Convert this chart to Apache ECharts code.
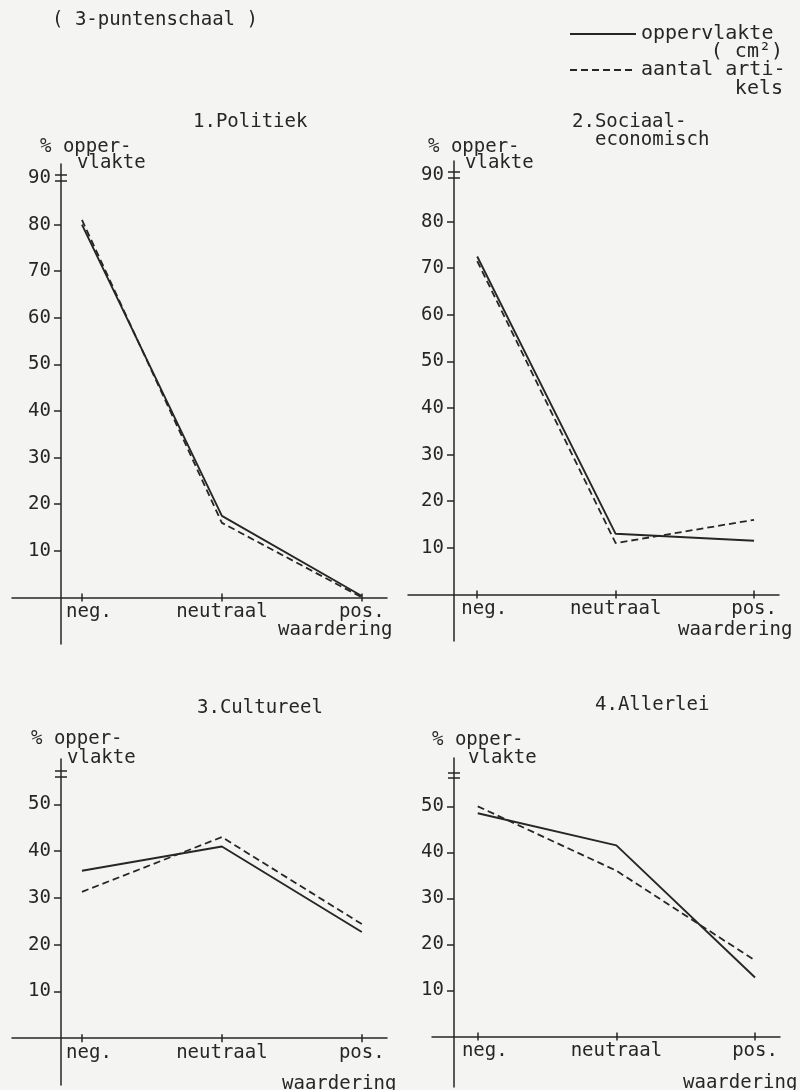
<!DOCTYPE html>
<html>
<head>
<meta charset="utf-8">
<script src="https://cdn.jsdelivr.net/npm/echarts@6/dist/echarts.min.js"></script>
<style>
html,body{margin:0;padding:0;background:#f4f4f2;}
#chart{width:800px;height:1090px;}
</style>
</head>
<body>
<div id="chart"></div>
<script>
// ---- data ----
const categories = ['neg.', 'neutraal', 'pos.'];
const seriesNames = ['oppervlakte ( cm²)', 'aantal artikels'];
const politiekOpp = [80, 17.5, 0.3];
const politiekArt = [81, 16, 0];
const sociaalOpp = [72.5, 13, 11.5];
const sociaalArt = [71.5, 11, 16];
const cultureelOpp = [35.8, 41, 22.7];
const cultureelArt = [31.3, 43, 24.4];
const allerleiOpp = [48.5, 41.5, 12.8];
const allerleiArt = [50, 36, 16.5];
const yTicksTop = [10, 20, 30, 40, 50, 60, 70, 80, 90];
const yTicksBottom = [10, 20, 30, 40, 50];

// ---- layout ----
const FONT = 'DejaVu Sans Mono';
const INK = '#262626';
const FS = 19;
const panels = [
  {left: 12, top: 164, width: 375, height: 480, xMin: -0.5, xMax: 2.18, yMin: -10, yMax: 93, yOffset: -49,
   labels: yTicksTop, breaks: [89.5, 90.6], opp: politiekOpp, art: politiekArt},
  {left: 408, top: 161, width: 371, height: 480, xMin: -0.5, xMax: 2.18, yMin: -10, yMax: 93, yOffset: -46,
   labels: yTicksTop, breaks: [89.5, 90.6], opp: sociaalOpp, art: sociaalArt},
  {left: 12, top: 759, width: 375, height: 326, xMin: -0.5, xMax: 2.18, yMin: -10, yMax: 59.7, yOffset: -49,
   labels: yTicksBottom, breaks: [55.8, 57.1], opp: cultureelOpp, art: cultureelArt},
  {left: 432, top: 758, width: 348, height: 329, xMin: -0.33, xMax: 2.18, yMin: -11, yMax: 60.5, yOffset: -22,
   labels: yTicksBottom, breaks: [56.1, 57.4], opp: allerleiOpp, art: allerleiArt}
];

const axisLineStyle = {color: INK, width: 1.5};
const textBase = {fontFamily: FONT, fontSize: FS, color: INK, lineHeight: 19};

const grid = [], xAxis = [], yAxis = [], series = [];
const catIdx = categories.map((c, k) => k);

panels.forEach((p, i) => {
  grid.push({left: p.left, top: p.top, width: p.width, height: p.height});
  // x axis sits at value 0 of the y scale: shift it up from the grid bottom
  const xOffset = -p.height * (0 - p.yMin) / (p.yMax - p.yMin);
  const xCommon = {gridIndex: i, type: 'value', min: p.xMin, max: p.xMax, position: 'bottom', offset: xOffset,
    splitLine: {show: false}, axisLine: {show: true, onZero: false, lineStyle: axisLineStyle}};
  xAxis.push(Object.assign({}, xCommon, {
    axisTick: {show: true, customValues: catIdx, length: 4, lineStyle: axisLineStyle},
    axisLabel: {show: true, customValues: catIdx, margin: 5,
      formatter: v => v === 0 ? '{first|' + categories[v] + '}' : categories[Math.round(v)],
      fontFamily: FONT, fontSize: FS, color: INK,
      rich: {first: {fontFamily: FONT, fontSize: FS, color: INK, padding: [0, 0, 0, 14]}}}
  }));
  xAxis.push(Object.assign({}, xCommon, {
    axisLine: {show: false, onZero: false},
    axisTick: {show: true, customValues: catIdx, inside: true, length: 4, lineStyle: axisLineStyle},
    axisLabel: {show: false}
  }));
  const yCommon = {gridIndex: i, type: 'value', min: p.yMin, max: p.yMax, position: 'left', offset: p.yOffset,
    splitLine: {show: false}};
  const tickVals = p.labels.slice(0, p.labels.length - (p.labels === yTicksTop ? 1 : 0));
  yAxis.push(Object.assign({}, yCommon, {
    axisLine: {show: true, onZero: false, lineStyle: axisLineStyle},
    axisTick: {show: true, customValues: tickVals, length: 7, lineStyle: axisLineStyle},
    axisLabel: {show: true, customValues: p.labels, margin: 10, fontFamily: FONT, fontSize: FS, color: INK}
  }));
  yAxis.push(Object.assign({}, yCommon, {
    axisLine: {show: false, onZero: false},
    axisTick: {show: true, customValues: p.breaks, length: 6, lineStyle: axisLineStyle},
    axisLabel: {show: false}
  }));
  yAxis.push(Object.assign({}, yCommon, {
    axisLine: {show: false, onZero: false},
    axisTick: {show: true, customValues: p.breaks, inside: true, length: 6, lineStyle: axisLineStyle},
    axisLabel: {show: false}
  }));
  series.push({
    name: seriesNames[0], type: 'line', xAxisIndex: 2 * i, yAxisIndex: 3 * i,
    data: catIdx.map(k => [k, p.opp[k]]), symbol: 'none', silent: true, animation: false,
    itemStyle: {color: INK}, lineStyle: {color: INK, width: 1.9, type: 'solid'}, z: 3
  });
  series.push({
    name: seriesNames[1], type: 'line', xAxisIndex: 2 * i, yAxisIndex: 3 * i,
    data: catIdx.map(k => [k, p.art[k]]), symbol: 'none', silent: true, animation: false,
    itemStyle: {color: INK}, lineStyle: {color: INK, width: 1.8, type: [7, 4]}, z: 3
  });
});

function txt(text, left, cy, extra) {
  const t = {text: text, top: cy - 9.5, padding: 0,
    textStyle: Object.assign({}, textBase, {fontWeight: 'normal'})};
  if (typeof left === 'number') t.left = left; else t.right = left.right;
  if (extra) Object.assign(t.textStyle, extra);
  return t;
}

const titles = [
  txt('( 3-puntenschaal )', 52, 20),
  txt('1.Politiek', 193, 122),
  txt('% opper-', 40, 147), txt('vlakte', 77, 163),
  txt('2.Sociaal-', 572, 122), txt('economisch', 595, 140),
  txt('% opper-', 428, 147), txt('vlakte', 465, 163),
  txt('waardering', 278, 630), txt('waardering', 678, 630),
  txt('3.Cultureel', 197, 708),
  txt('% opper-', 31, 739), txt('vlakte', 67, 758),
  txt('4.Allerlei', 595, 705),
  txt('% opper-', 432, 740), txt('vlakte', 468, 758),
  txt('waardering', 282, 1084), txt('waardering', 683, 1083),
  txt('( cm²)', {right: 17}, 51, {fontSize: 20, lineHeight: 20}),
  txt('kels', {right: 17}, 88, {fontSize: 20, lineHeight: 20})
];

const chart = echarts.init(document.getElementById('chart'), null, {renderer: 'canvas'});
chart.setOption({
  backgroundColor: '#f4f4f2',
  animation: false,
  title: titles,
  legend: {
    orient: 'vertical', left: 569, top: 24, itemWidth: 66, itemHeight: 14, itemGap: 16,
    selectedMode: false, padding: 0,
    data: seriesNames,
    itemStyle: {color: 'transparent', borderColor: 'transparent', borderWidth: 0, opacity: 0},
    formatter: n => n === seriesNames[0] ? 'oppervlakte' : 'aantal arti-',
    textStyle: {fontFamily: FONT, fontSize: 20, color: INK, lineHeight: 20}
  },
  grid: grid,
  xAxis: xAxis,
  yAxis: yAxis,
  series: series
});
</script>
</body>
</html>
